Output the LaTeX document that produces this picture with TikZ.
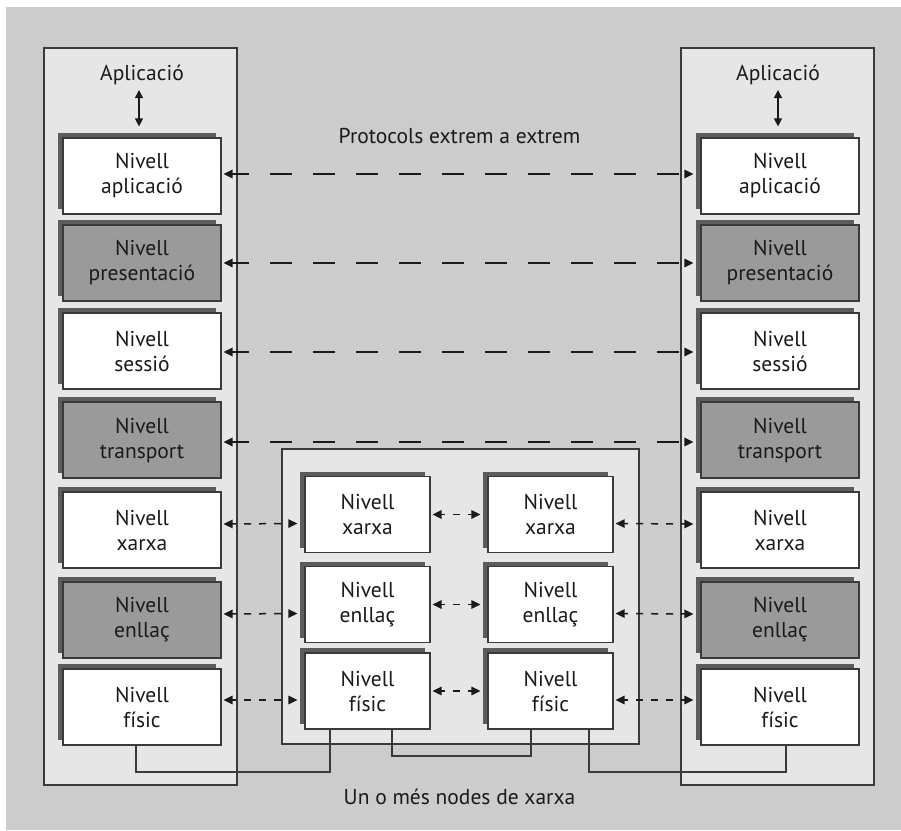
\documentclass[tikz,border=0pt]{standalone}
\usepackage{fontspec}
\setmainfont{PT Sans}
\usetikzlibrary{arrows.meta,shadows}
\definecolor{bg}{HTML}{CCCCCC}
\definecolor{panel}{HTML}{E6E6E6}
\definecolor{darkbox}{HTML}{9A9A9A}
\definecolor{shade}{HTML}{5C5C5C}
\definecolor{edge}{HTML}{3A3A3A}
\definecolor{ink}{HTML}{1A1A1A}
\begin{document}
\begin{tikzpicture}[x=1pt,y=-1pt,
  txt/.style={text=ink, font=\fontsize{21.5}{25}\selectfont, inner sep=0pt},
  layer/.style={txt, draw=edge, line width=1.2pt, fill=white,
    minimum width=158pt, minimum height=76pt, align=center,
    general shadow={fill=shade, shadow xshift=-5.5pt, shadow yshift=5pt}},
  mlayer/.style={layer, minimum width=125pt, minimum height=76pt},
  darklayer/.style={fill=darkbox},
  panelbox/.style={draw=edge, line width=1.2pt, fill=panel},
  longarr/.style={draw=ink, line width=1.5pt, >={Triangle[length=9pt,width=8.5pt]}, <->, dash pattern=on 22pt off 21pt, dash phase=5pt},
  shortarr/.style={draw=ink, line width=1.5pt, >={Triangle[length=9pt,width=8.5pt]}, <->, dash pattern=on 7pt off 8pt, dash phase=3pt},
  vertarr/.style={draw=ink, line width=1.3pt, >={Triangle[length=8pt,width=8pt]}, <->},
  wire/.style={draw=edge, line width=1.2pt}
]
\fill[white] (0,0) rectangle (901,830);
\fill[bg] (6,7) rectangle (901,830);
\useasboundingbox (0,0) rectangle (901,830);

% panels
\path[panelbox] (44,48) rectangle (237,785);
\path[panelbox] (681,48) rectangle (874,785);
\path[panelbox] (282,449) rectangle (639,744);

% application labels
\node[txt, anchor=base] (appL) at (142,80) {Aplicació};
\node[txt, anchor=base] (appR) at (778,80) {Aplicació};

% left stack
\node[layer] (L1) at (142,176) {Nivell\\aplicació};
\node[layer,darklayer] (L2) at (142,263) {Nivell\\presentació};
\node[layer] (L3) at (142,351) {Nivell\\sessió};
\node[layer,darklayer] (L4) at (142,440) {Nivell\\transport};
\node[layer] (L5) at (142,530) {Nivell\\xarxa};
\node[layer,darklayer] (L6) at (142,620) {Nivell\\enllaç};
\node[layer] (L7) at (142,707) {Nivell\\físic};

% right stack
\node[layer] (R1) at (780,176) {Nivell\\aplicació};
\node[layer,darklayer] (R2) at (780,263) {Nivell\\presentació};
\node[layer] (R3) at (780,351) {Nivell\\sessió};
\node[layer,darklayer] (R4) at (780,440) {Nivell\\transport};
\node[layer] (R5) at (780,530) {Nivell\\xarxa};
\node[layer,darklayer] (R6) at (780,620) {Nivell\\enllaç};
\node[layer] (R7) at (780,707) {Nivell\\físic};

% middle nodes
\node[mlayer] (A1) at (367.5,514.5) {Nivell\\xarxa};
\node[mlayer] (A2) at (367.5,604.5) {Nivell\\enllaç};
\node[mlayer] (A3) at (367.5,691) {Nivell\\físic};
\node[mlayer] (B1) at (550.5,514.5) {Nivell\\xarxa};
\node[mlayer] (B2) at (550.5,604.5) {Nivell\\enllaç};
\node[mlayer] (B3) at (550.5,691) {Nivell\\físic};

% vertical application arrows
\coordinate (vaL) at (139,90);
\coordinate (vaR) at (778,90);
\draw[vertarr] (vaL) -- ([yshift=11pt]vaL |- L1.north);
\draw[vertarr] (vaR) -- ([yshift=11pt]vaR |- R1.north);

% texts
\node[txt, anchor=base] (proto) at (459.5,143) {Protocols extrem a extrem};
\node[txt, anchor=base] (nodes) at (459.5,804) {Un o més nodes de xarxa};

% end-to-end arrows
\draw[longarr] ([xshift=2pt,yshift=2pt]L1.east) -- ([xshift=-7pt,yshift=2pt]R1.west);
\draw[longarr] ([xshift=2pt]L2.east) -- ([xshift=-7pt]R2.west);
\draw[longarr] ([xshift=2pt,yshift=-1pt]L3.east) -- ([xshift=-7pt,yshift=-1pt]R3.west);
\draw[longarr] ([xshift=2pt,yshift=-2pt]L4.east) -- ([xshift=-7pt,yshift=-2pt]R4.west);

% hop-by-hop arrows
\draw[shortarr] ([xshift=2pt,yshift=6pt]L5.east) -- ([xshift=-7pt,yshift=-9pt]A1.west);
\draw[shortarr] ([xshift=2pt,yshift=6pt]L6.east) -- ([xshift=-7pt,yshift=-9pt]A2.west);
\draw[shortarr] ([xshift=2pt,yshift=7pt]L7.east) -- ([xshift=-7pt,yshift=-9pt]A3.west);
\draw[shortarr] ([xshift=2pt]A1.east) -- ([xshift=-7pt]B1.west);
\draw[shortarr] ([xshift=2pt]A2.east) -- ([xshift=-7pt]B2.west);
\draw[shortarr] ([xshift=2pt]A3.east) -- ([xshift=-7pt]B3.west);
\draw[shortarr] ([xshift=2pt,yshift=-9pt]B1.east) -- ([xshift=-7pt,yshift=6pt]R5.west);
\draw[shortarr] ([xshift=2pt,yshift=-9pt]B2.east) -- ([xshift=-7pt,yshift=6pt]R6.west);
\draw[shortarr] ([xshift=2pt,yshift=-9pt]B3.east) -- ([xshift=-7pt,yshift=7pt]R7.west);

% physical wires
\coordinate (w1) at (136,772);
\coordinate (w2) at (330,772);
\coordinate (w3) at (392,756);
\coordinate (w4) at (531,756);
\coordinate (w5) at (589,772);
\coordinate (w6) at (786,772);
\draw[wire] (L7.south -| w1) -- (w1) -- (w2) -- (A3.south -| w2);
\draw[wire] (A3.south -| w3) -- (w3) -- (w4) -- (B3.south -| w4);
\draw[wire] (B3.south -| w5) -- (w5) -- (w6) -- (R7.south -| w6);
\end{tikzpicture}
\end{document}
